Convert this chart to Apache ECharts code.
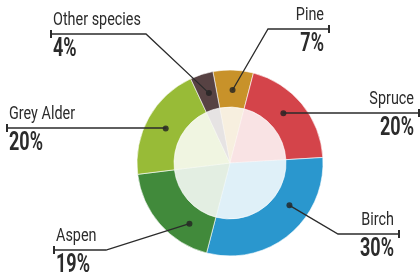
<!DOCTYPE html>
<html>
<head>
<meta charset="utf-8">
<script src="https://cdn.jsdelivr.net/npm/echarts@6/dist/echarts.min.js"></script>
<style>
  html, body { margin: 0; padding: 0; background: #fff; }
  #main { width: 420px; height: 274px; }
</style>
</head>
<body>
<div id="main"></div>
<script>
// species share (%)
var species = ['Pine', 'Spruce', 'Birch', 'Aspen', 'Grey Alder', 'Other species'];
var shares = [7, 20, 30, 19, 20, 4];
var colors = ['#C8922A', '#D4444A', '#2A97CE', '#418A3B', '#98BB37', '#574243'];

// label layout: where along the slice the dot sits, and the label line
var anchorFrac = [0.5, 0.45, 0.36, 0.28, 0.49, 0.57];
var labelSide = ['right', 'right', 'right', 'left', 'left', 'left'];
var lineY = [29, 113, 234, 250, 128, 34];
var elbowX = [268, null, 338, 106, null, 146];
var endX = [329, 419, 399, 54, 7, 51];

var CX = 230, CY = 163, R_OUT = 93, R_IN = 56, R_DOT = 73;
var FONT = "Roboto, 'DejaVu Sans', sans-serif";
var INK = '#2b2b2b';

var myChart = echarts.init(document.getElementById('main'));

// dot positions in polar units (angle axis 0..100 = share %)
var dotData = [];
var cum = 0;
for (var i = 0; i < shares.length; i++) {
    dotData.push([R_DOT, cum + shares[i] * anchorFrac[i]]);
    cum += shares[i];
}

function fade(hex, a) {
    var r = parseInt(hex.substr(1, 2), 16), g = parseInt(hex.substr(3, 2), 16), b = parseInt(hex.substr(5, 2), 16);
    return 'rgba(' + r + ',' + g + ',' + b + ',' + a + ')';
}

function buildLabels(dotPx) {
    var els = [];
    for (var i = 0; i < species.length; i++) {
        var d = dotPx[i];
        var y = lineY[i];
        var ex = elbowX[i] == null ? d[0] : elbowX[i];
        var right = labelSide[i] === 'right';
        var tx = right ? endX[i] - 5 : endX[i] + 2;
        els.push({
            type: 'polyline',
            z: 10,
            shape: { points: [d, [ex, y], [endX[i], y]] },
            style: { stroke: INK, lineWidth: 1.3, fill: null }
        });
        els.push({
            type: 'line',
            z: 10,
            shape: { x1: endX[i], y1: y - 4, x2: endX[i], y2: y + 4 },
            style: { stroke: INK, lineWidth: 2 }
        });
        els.push({
            type: 'text',
            z: 10,
            x: tx, y: y - 5,
            scaleX: 0.8,
            style: {
                text: species[i], fontFamily: FONT, fontSize: 18, fill: INK,
                textAlign: right ? 'right' : 'left', textVerticalAlign: 'bottom'
            }
        });
        els.push({
            type: 'text',
            z: 10,
            x: tx, y: y + 3,
            scaleX: 0.72,
            style: {
                text: shares[i] + '%', fontFamily: FONT, fontSize: 25, fontWeight: 'bold', fill: INK,
                textAlign: right ? 'right' : 'left', textVerticalAlign: 'top'
            }
        });
    }
    return els;
}

function buildOption(dotPx) {
    return {
        animation: false,
        polar: { center: [CX, CY], radius: R_OUT },
        angleAxis: { type: 'value', min: 0, max: 100, startAngle: 100.6, clockwise: true, show: false },
        radiusAxis: { type: 'value', min: 0, max: R_OUT, show: false },
        graphic: dotPx ? buildLabels(dotPx) : [],
        series: [
            {
                type: 'pie',
                center: [CX, CY],
                radius: [R_IN, R_OUT],
                startAngle: 100.6,
                clockwise: true,
                z: 2,
                itemStyle: { borderColor: '#fff', borderWidth: 0.6 },
                label: { show: false },
                labelLine: { show: false },
                data: species.map(function (n, i) {
                    return { name: n, value: shares[i], itemStyle: { color: colors[i] } };
                })
            },
            {
                type: 'pie',
                center: [CX, CY],
                radius: [0, R_IN],
                startAngle: 100.6,
                clockwise: true,
                silent: true,
                z: 1,
                itemStyle: { borderColor: 'rgba(255,255,255,0.6)', borderWidth: 0.5 },
                label: { show: false },
                labelLine: { show: false },
                data: species.map(function (n, i) {
                    return { name: n, value: shares[i], itemStyle: { color: fade(colors[i], 0.15) } };
                })
            },
            {
                type: 'scatter',
                coordinateSystem: 'polar',
                symbolSize: 6,
                z: 5,
                itemStyle: { color: '#222' },
                data: dotData
            }
        ]
    };
}

myChart.setOption(buildOption(null));
var dotPx = dotData.map(function (p) {
    return myChart.convertToPixel({ seriesIndex: 2 }, p);
});
myChart.setOption(buildOption(dotPx));
</script>
</body>
</html>
